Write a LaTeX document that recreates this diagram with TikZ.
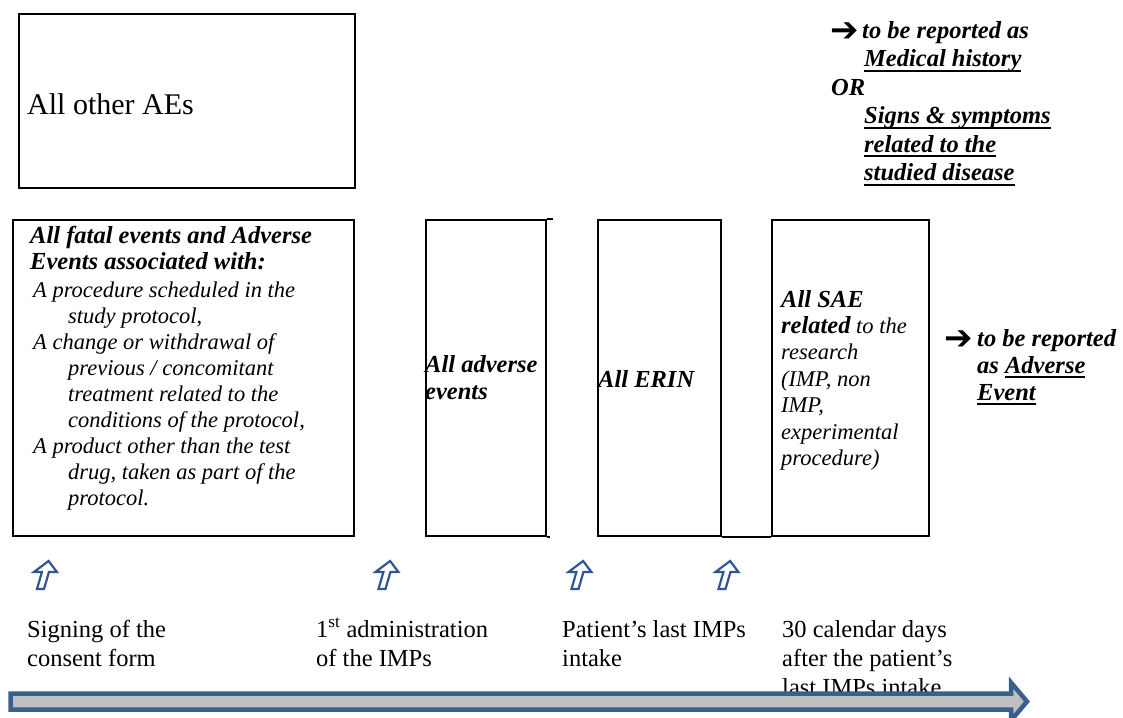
\documentclass[tikz,border=0pt]{standalone}
\usepackage{fontspec}
\setmainfont{Liberation Serif}
\newfontfamily\symfont{DejaVu Sans}
\definecolor{arrowblue}{RGB}{47,85,151}
\definecolor{barblue}{RGB}{58,95,140}
\definecolor{bargrey}{RGB}{191,191,191}
\newcommand\ulx[1]{\setbox0=\hbox{#1}\leavevmode\rlap{\rule[-5pt]{\wd0}{2pt}}\box0}
\tikzset{
  box/.style={draw, line width=2pt, inner sep=0pt},
  txt/.style={inner sep=0pt, anchor=base west, align=left},
  bi/.style={font=\fontsize{24.5}{28.5}\selectfont\bfseries\itshape},
  it/.style={font=\fontsize{22.5}{26.1}\selectfont\itshape},
  rm/.style={font=\fontsize{24.5}{29}\selectfont},
  sym/.style={inner sep=0pt, anchor=center, font=\fontsize{34}{36}\selectfont\symfont},
  uparr/.pic={\draw[arrowblue, line width=2.2pt, line join=miter, xslant=0.29]
    (-3.5,0) -- (3.5,0) -- (3.5,-17) -- (11.5,-17) -- (0,-28) -- (-11.5,-17) -- (-3.5,-17) -- cycle;}
}
\begin{document}
\begin{tikzpicture}[x=1pt,y=-1pt]
\useasboundingbox (0,0) rectangle (1123,717);
% boxes
\draw[box] (19,14) rectangle (355,188);
\node[box, anchor=north west, minimum width=341pt, minimum height=316pt] (fatal) at (12,219) {};
\node[box, anchor=north west, minimum width=120pt, minimum height=316pt] (adv) at (425,219) {};
\draw[line width=2pt] (adv.north east) -- ++(6,0);
\draw[line width=2pt] (adv.south east) -- ++(3,0);
\node[box, anchor=north west, minimum width=123pt, minimum height=316pt] (erin) at (597,219) {};
\node[box, anchor=north west, minimum width=157pt, minimum height=316pt] (sae) at (771,219) {};
\draw[line width=2pt] (erin.south east) -- (sae.south west);
% box texts
\node[txt, font=\fontsize{30}{34}\selectfont] (other) at (27,114) {All other AEs};
\node[txt, font=\fontsize{24.5}{26.8}\selectfont\bfseries\itshape] (fatB) at (30,269.8) {All fatal events and Adverse\\Events associated with:};
\node[txt, it] (fatI) at (33,505.8) {A procedure scheduled in the\\
\hspace*{35pt}study protocol,\\
A change or withdrawal of\\
\hspace*{35pt}previous / concomitant\\
\hspace*{35pt}treatment related to the\\
\hspace*{35pt}conditions of the protocol,\\
A product other than the test\\
\hspace*{35pt}drug, taken as part of the\\
\hspace*{35pt}protocol.};
\node[txt, font=\fontsize{24.5}{27}\selectfont\bfseries\itshape] (advT) at (425,399) {All adverse\\events};
\node[txt, bi] (erinT) at (598,387) {All ERIN};
\node[txt, font=\fontsize{22.5}{26.4}\selectfont\itshape] (saeT) at (781,465.4) {{\fontsize{24.5}{26.4}\selectfont\bfseries All SAE}\\
{\fontsize{24.5}{26.4}\selectfont\bfseries related} to the\\
research\\
(IMP, non\\
IMP,\\
experimental\\
procedure)};
% report notes
\node[sym] (arr1) at (845,32) {➔};
\node[txt, font=\fontsize{24.5}{28.5}\selectfont\bfseries\itshape] (rep1) at (831,180.5) {\hspace*{31pt}to be reported as\\
\hspace*{33pt}\ulx{Medical history}\\
OR\\
\hspace*{33pt}\ulx{Signs \& symptoms}\\
\hspace*{33pt}\ulx{related to the}\\
\hspace*{33pt}\ulx{studied disease}};
\node[sym] (arr2) at (959,340) {➔};
\node[txt, font=\fontsize{24.5}{27}\selectfont\bfseries\itshape] (rep2) at (977,400) {to be reported\\
as \ulx{Adverse}\\
\ulx{Event}};
% up arrows
\pic at (40.5,589) {uparr};
\pic at (382,589) {uparr};
\pic at (575,589) {uparr};
\pic at (722,589) {uparr};
% milestones
\node[txt, rm] (m1) at (27,666) {Signing of the\\consent form};
\node[txt, rm] (m2) at (316,666) {1\textsuperscript{st} administration\\of the IMPs};
\node[txt, rm] (m3) at (562,666) {Patient’s last IMPs\\intake};
\node[txt, rm] (m4) at (782,695) {30 calendar days\\after the patient’s\\last IMPs intake};
% time axis
\draw[barblue, fill=bargrey, line width=4.5pt, line join=miter]
  (10.5,693.5) -- (1011,693.5) -- (1011,682.5) -- (1027,701.5) -- (1011,720.5) -- (1011,709.5) -- (10.5,709.5) -- cycle;
\end{tikzpicture}
\end{document}
